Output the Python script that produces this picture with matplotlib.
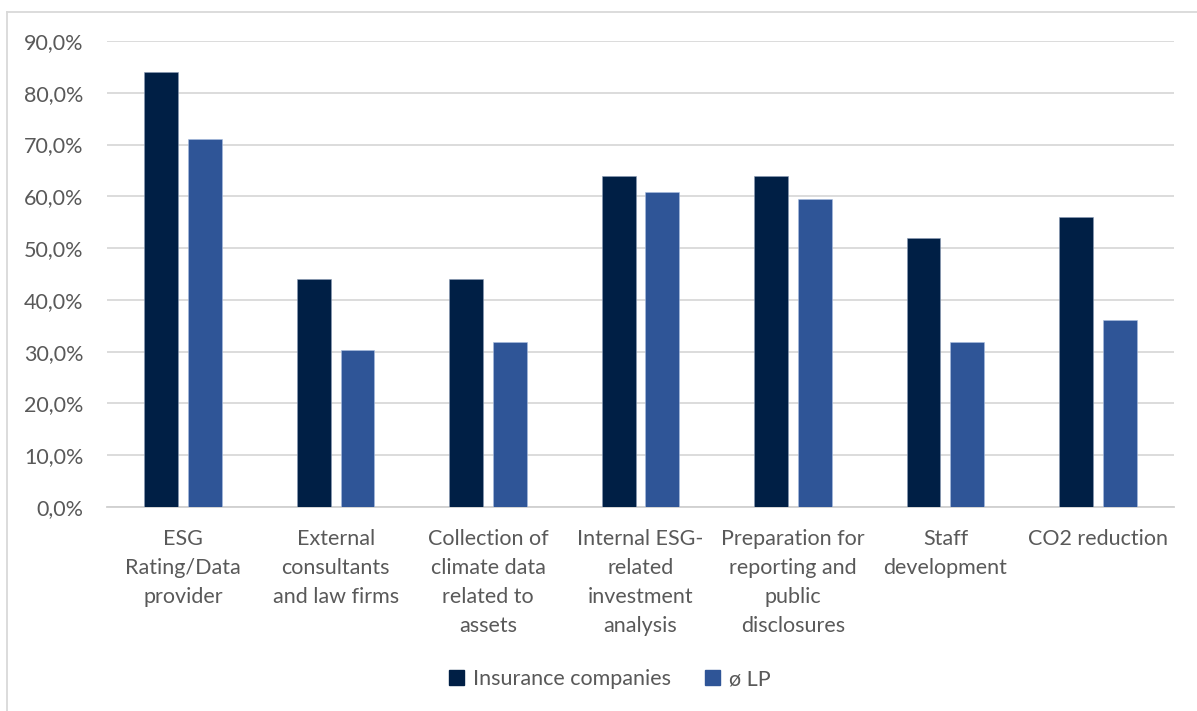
import matplotlib
matplotlib.use("Agg")
import matplotlib.pyplot as plt
import numpy as np
from matplotlib.patches import Rectangle
from matplotlib.lines import Line2D

categories = ["ESG\nRating/Data\nprovider", "External\nconsultants\nand law firms",
              "Collection of\nclimate data\nrelated to\nassets", "Internal ESG-\nrelated\ninvestment\nanalysis",
              "Preparation for\nreporting and\npublic\ndisclosures", "Staff\ndevelopment", "CO2 reduction"]
insurance = [84.0, 44.0, 44.0, 64.0, 64.0, 52.0, 56.0]
lp = [71.0, 30.4, 31.9, 60.9, 59.4, 31.9, 36.1]
series_names = ["Insurance companies", "\u00f8 LP"]
yticks = [0, 10, 20, 30, 40, 50, 60, 70, 80, 90]
ytick_labels = ["0,0%", "10,0%", "20,0%", "30,0%", "40,0%", "50,0%", "60,0%", "70,0%", "80,0%", "90,0%"]

c_dark = "#001F45"
c_lp = "#2F5597"
txt = "#595959"
grid = "#D9D9D9"

plt.rcParams['font.family'] = ['Lato', 'DejaVu Sans']
FS = 15.5

fig = plt.figure(figsize=(11.97, 7.11), dpi=100)
W, H = 1197, 711
ax = fig.add_axes([107 / W, 1 - 507 / H, (1174 - 107) / W, (507 - 41) / H])

x = np.arange(len(categories))
bw = 0.222
off = 0.143
ax.bar(x - off, insurance, bw, color=c_dark, edgecolor="#8a9bb5", linewidth=0.4, zorder=3)
ax.bar(x + off, lp, bw, color=c_lp, edgecolor="#a9bde0", linewidth=0.4, zorder=3)

ax.set_xlim(-0.5, len(categories) - 0.5)
ax.set_ylim(0, 90)
ax.set_yticks(yticks)
ax.set_yticklabels(ytick_labels)
ax.set_xticks(x)
ax.set_xticklabels(categories, linespacing=1.55)
ax.yaxis.grid(True, color=grid, linewidth=1.3, zorder=0)
ax.set_axisbelow(True)
for s in ["top", "right", "left"]:
    ax.spines[s].set_visible(False)
ax.spines["bottom"].set_color("#D0D0D0")
ax.spines["bottom"].set_linewidth(1.3)
ax.tick_params(axis="both", length=0, colors=txt, labelsize=FS)
ax.tick_params(axis="y", pad=17)
ax.tick_params(axis="x", pad=16)

# chart frame
fig.add_artist(Line2D([7 / W, 7 / W], [0, 1 - 12 / H], transform=fig.transFigure, color=grid, linewidth=1.3))
fig.add_artist(Line2D([7 / W, 1], [1 - 12 / H, 1 - 12 / H], transform=fig.transFigure, color=grid, linewidth=1.3))

handles = [Rectangle((0, 0), 1, 1, color=c_dark), Rectangle((0, 0), 1, 1, color=c_lp)]
fig.legend(handles, series_names, loc="center", bbox_to_anchor=(610 / W, 1 - 679 / H), ncol=2,
           frameon=False, fontsize=FS, labelcolor=txt, handlelength=0.7, handleheight=0.7,
           handletextpad=0.4, columnspacing=1.6)

fig.savefig("out.png", dpi=100)
